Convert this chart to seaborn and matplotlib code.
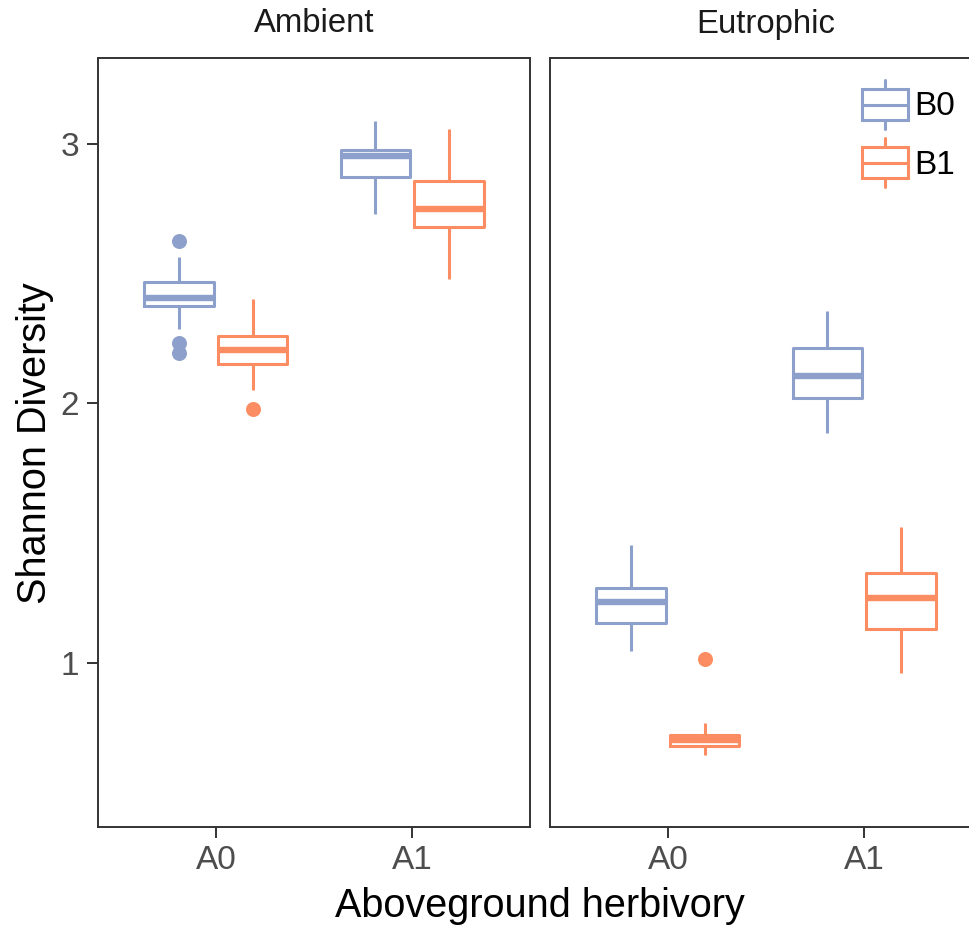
import matplotlib
matplotlib.use("Agg")
import numpy as np
import pandas as pd
import seaborn as sns
import matplotlib.pyplot as plt
from matplotlib.legend_handler import HandlerBase
from matplotlib.patches import Rectangle, Patch
from matplotlib.lines import Line2D

# ---------------- data ----------------
nutrients = ["Ambient", "Eutrophic"]
herbivory = ["A0", "A1"]
belowground = ["B0", "B1"]
colors = ["#8DA0CB", "#FC8D62"]

ambient_A0_B0 = [2.193, 2.232, 2.287, 2.377, 2.390, 2.400, 2.408, 2.420, 2.440, 2.469, 2.500, 2.566, 2.624]
ambient_A0_B1 = [1.978, 2.052, 2.100, 2.151, 2.170, 2.190, 2.206, 2.220, 2.240, 2.261, 2.300, 2.350, 2.402]
ambient_A1_B0 = [2.729, 2.800, 2.850, 2.874, 2.900, 2.930, 2.952, 2.960, 2.970, 2.977, 3.000, 3.040, 3.089]
ambient_A1_B1 = [2.480, 2.580, 2.640, 2.679, 2.700, 2.730, 2.751, 2.780, 2.820, 2.857, 2.900, 2.980, 3.058]
eutrophic_A0_B0 = [1.047, 1.090, 1.120, 1.155, 1.180, 1.210, 1.236, 1.250, 1.270, 1.290, 1.330, 1.400, 1.455]
eutrophic_A0_B1 = [0.645, 0.660, 0.672, 0.681, 0.690, 0.697, 0.703, 0.708, 0.716, 0.724, 0.740, 0.768, 1.017]
eutrophic_A1_B0 = [1.887, 1.950, 1.990, 2.020, 2.050, 2.080, 2.106, 2.130, 2.170, 2.215, 2.260, 2.310, 2.356]
eutrophic_A1_B1 = [0.960, 1.030, 1.090, 1.131, 1.170, 1.220, 1.252, 1.280, 1.310, 1.348, 1.400, 1.460, 1.523]

groups = {
    ("Ambient", "A0", "B0"): ambient_A0_B0,
    ("Ambient", "A0", "B1"): ambient_A0_B1,
    ("Ambient", "A1", "B0"): ambient_A1_B0,
    ("Ambient", "A1", "B1"): ambient_A1_B1,
    ("Eutrophic", "A0", "B0"): eutrophic_A0_B0,
    ("Eutrophic", "A0", "B1"): eutrophic_A0_B1,
    ("Eutrophic", "A1", "B0"): eutrophic_A1_B0,
    ("Eutrophic", "A1", "B1"): eutrophic_A1_B1,
}
rows = []
for (n, h, b), vals in groups.items():
    for v in vals:
        rows.append({"Nutrient": n, "Herbivory": h, "Belowground": b, "Diversity": v})
df = pd.DataFrame(rows)

# ---------------- style ----------------
sns.set_theme(style="white")
plt.rcParams["font.family"] = ["Liberation Sans", "DejaVu Sans"]

W, H = 970, 927
fig = plt.figure(figsize=(W / 100, H / 100), dpi=100)

ax_top, ax_bot = 58.0, 826.5
ax_w = 432.0
lefts = [98.0, 550.0]
axes = []
for i, left in enumerate(lefts):
    ax = fig.add_axes([left / W, (H - ax_bot) / H, ax_w / W, (ax_bot - ax_top) / H])
    sub = df[df["Nutrient"] == nutrients[i]]
    sns.boxplot(
        data=sub, x="Herbivory", y="Diversity", hue="Belowground",
        order=herbivory, hue_order=belowground, palette=colors,
        saturation=1, fill=False, width=0.75, gap=0.06, linewidth=2.2,
        fliersize=10.8, showcaps=False,
        medianprops=dict(linewidth=4.6),
        flierprops=dict(marker="o"),
        legend=False, ax=ax,
    )
    for line in ax.lines:
        if line.get_marker() not in ("None", None, ""):
            line.set_markerfacecolor(line.get_markeredgecolor())
            line.set_markeredgewidth(0)
    ax.set_xlim(-0.6, 1.6)
    ax.set_ylim(0.370, 3.331)
    ax.set_yticks([1, 2, 3])
    ax.set_xlabel("")
    ax.set_ylabel("")
    for s in ax.spines.values():
        s.set_visible(True)
        s.set_color("#333333")
        s.set_linewidth(1.4)
    ax.tick_params(axis="both", length=8, width=1.4, color="#333333",
                   labelsize=24, labelcolor="#4D4D4D", direction="out", pad=5.5)
    ax.tick_params(axis="x", bottom=True)
    ax.tick_params(axis="y", left=True)
    if i == 1:
        ax.tick_params(axis="y", left=False, labelleft=False)
    fig.text((left + ax_w / 2) / W, 1 - 24 / H, nutrients[i], ha="center", va="center",
             fontsize=23.7, color="#1A1A1A")
    axes.append(ax)

fig.text(35 / W, 1 - 443 / H, "Shannon Diversity", rotation=90, ha="center", va="center",
         fontsize=28.5, color="black")
fig.text(540 / W, 1 - 906 / H, "Aboveground herbivory", ha="center", va="center",
         fontsize=28.5, color="black")


class BoxHandler(HandlerBase):
    def create_artists(self, legend, orig_handle, xdescent, ydescent, width, height,
                       fontsize, trans):
        c = orig_handle.get_edgecolor()
        x0, y0 = -xdescent, -ydescent
        bh = height * 0.63
        by = y0 + (height - bh) / 2
        xm = x0 + width / 2
        rect = Rectangle((x0, by), width, bh, facecolor="white", edgecolor=c, lw=2.2,
                         transform=trans)
        med = Line2D([x0, x0 + width], [by + bh / 2] * 2, color=c, lw=2.2, transform=trans)
        w1 = Line2D([xm, xm], [y0, by], color=c, lw=2.2, transform=trans)
        w2 = Line2D([xm, xm], [by + bh, y0 + height], color=c, lw=2.2, transform=trans)
        return [w1, w2, rect, med]


handles = [Patch(edgecolor=colors[0], facecolor="white", label=belowground[0]),
           Patch(edgecolor=colors[1], facecolor="white", label=belowground[1])]
axes[1].legend(handles=handles, handler_map={Patch: BoxHandler()}, loc="upper left",
               bbox_to_anchor=(862 / W, 1 - 80 / H), bbox_transform=fig.transFigure,
               frameon=False, fontsize=24, labelcolor="black",
               handlelength=1.38, handleheight=1.886,
               handletextpad=0.2, labelspacing=0.28, borderpad=0, borderaxespad=0)

fig.savefig("out.png", dpi=100)
